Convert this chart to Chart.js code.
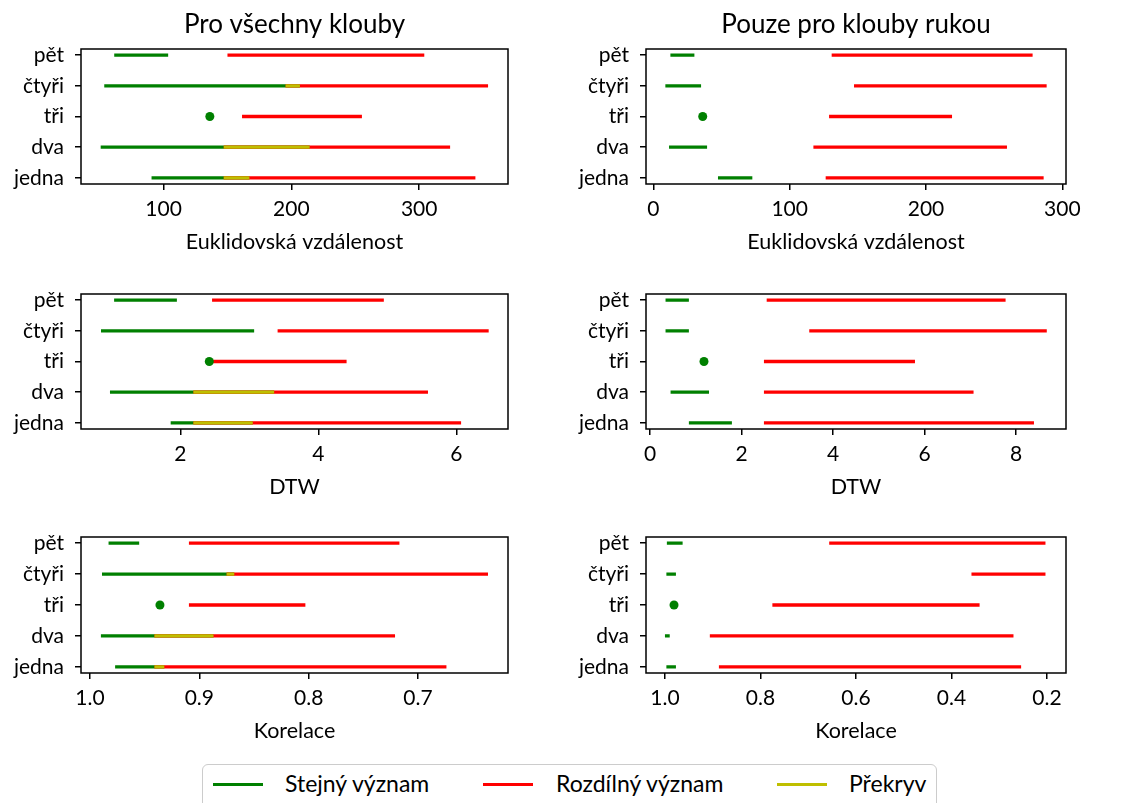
<!DOCTYPE html>
<html>
<head>
<meta charset="utf-8">
<script src="https://cdn.jsdelivr.net/npm/chart.js@4.4.1/dist/chart.umd.min.js"></script>
<style>
  html, body { margin: 0; padding: 0; background: #fff; }
  #page { position: relative; width: 1130px; height: 803px; overflow: hidden; font-family: Lato, sans-serif; color: #000; }
  #page canvas { position: absolute; }
  .legend { position: absolute; left: 202px; top: 764px; width: 735px; height: 60px; border: 1.5px solid #cccccc; border-radius: 6px; box-sizing: border-box; background: #fff; }
  .legend .line { position: absolute; top: 17.5px; width: 50px; height: 3.3px; }
  .legend .label { position: absolute; top: 5px; font-size: 23px; line-height: 26px; white-space: nowrap; }
</style>
</head>
<body>
<div id="page">
  <div class="legend">
    <div class="line" style="left:10px;background:#008000"></div>
    <div class="label" style="left:82px">Stejný význam</div>
    <div class="line" style="left:280px;background:#ff0000"></div>
    <div class="label" style="left:353px">Rozdílný význam</div>
    <div class="line" style="left:574px;background:#bfbf00"></div>
    <div class="label" style="left:646px">Překryv</div>
  </div>
</div>
<script>
// row labels, bottom to top
const categories = ['jedna', 'dva', 'tři', 'čtyři', 'pět'];

// [from, to] per category; "same" = stejný význam, "diff" = rozdílný význam
const euclidAllSame = [[90.6, 167.2], [50.8, 214.3], [136.2, 136.2], [53.6, 206.7], [61.4, 103.6]];
const euclidAllDiff = [[147.1, 344.0], [147.1, 324.2], [161.4, 255.2], [195.5, 353.9], [150.0, 304.0]];
const euclidHandSame = [[47.4, 72.6], [11.5, 39.4], [36.2, 36.2], [8.8, 35.0], [12.5, 30.1]];
const euclidHandDiff = [[126.4, 286.3], [117.4, 259.4], [128.9, 219.1], [147.2, 288.5], [130.8, 278.2]];

const dtwAllSame = [[1.86, 3.05], [0.98, 3.36], [2.42, 2.42], [0.85, 3.07], [1.04, 1.95]];
const dtwAllDiff = [[2.19, 6.07], [2.19, 5.59], [2.42, 4.41], [3.41, 6.47], [2.46, 4.95]];
const dtwHandSame = [[0.85, 1.79], [0.45, 1.29], [1.18, 1.18], [0.34, 0.85], [0.34, 0.85]];
const dtwHandDiff = [[2.49, 8.39], [2.49, 7.07], [2.49, 5.79], [3.48, 8.67], [2.55, 7.77]];

const corrAllSame = [[0.977, 0.932], [0.990, 0.887], [0.936, 0.936], [0.989, 0.868], [0.983, 0.955]];
const corrAllDiff = [[0.941, 0.674], [0.941, 0.721], [0.9095, 0.803], [0.875, 0.636], [0.9095, 0.717]];
const corrHandSame = [[0.997, 0.977], [1.0, 0.990], [0.981, 0.981], [0.997, 0.977], [0.996, 0.963]];
const corrHandDiff = [[0.887, 0.254], [0.906, 0.270], [0.775, 0.341], [0.358, 0.203], [0.656, 0.203]];

// x tick values
const euclidAllTicks = [100, 200, 300];
const euclidHandTicks = [0, 100, 200, 300];
const dtwAllTicks = [2, 4, 6];
const dtwHandTicks = [0, 2, 4, 6, 8];
const corrAllTicks = [1.0, 0.9, 0.8, 0.7];
const corrHandTicks = [1.0, 0.8, 0.6, 0.4, 0.2];

const GREEN = '#008000', RED = '#ff0000', YELLOW = '#bfbf00';
const FONT = 'Lato';
const YW = 80, RP = 80, XH = 75, TOP_PAD = 26;

const panels = [
  { title: 'Pro všechny klouby', xLabel: 'Euklidovská vzdálenost', same: euclidAllSame, diff: euclidAllDiff,
    ticks: euclidAllTicks, min: 35.4, max: 369.5, digits: 0, box: [81, 49, 427, 135] },
  { title: 'Pouze pro klouby rukou', xLabel: 'Euklidovská vzdálenost', same: euclidHandSame, diff: euclidHandDiff,
    ticks: euclidHandTicks, min: -5.4, max: 302.7, digits: 0, box: [646, 49, 420, 135] },
  { xLabel: 'DTW', same: dtwAllSame, diff: dtwAllDiff,
    ticks: dtwAllTicks, min: 0.56, max: 6.75, digits: 0, box: [81, 294, 427, 135] },
  { xLabel: 'DTW', same: dtwHandSame, diff: dtwHandDiff,
    ticks: dtwHandTicks, min: -0.087, max: 9.09, digits: 0, box: [646, 294, 420, 135] },
  { xLabel: 'Korelace', same: corrAllSame, diff: corrAllDiff, reverse: true,
    ticks: corrAllTicks, min: 0.6177, max: 1.0082, digits: 1, box: [81, 537, 427, 136] },
  { xLabel: 'Korelace', same: corrHandSame, diff: corrHandDiff, reverse: true,
    ticks: corrHandTicks, min: 0.160, max: 1.0397, digits: 1, box: [646, 537, 420, 136] }
];

// line pieces for each row, broken by empty points
function segments(ranges) {
  const pts = [];
  ranges.forEach((r, i) => {
    if (r[0] === r[1]) return;
    pts.push({ x: r[0], y: i }, { x: r[1], y: i }, { x: null, y: null });
  });
  return pts;
}

// part of the row where both ranges meet
function overlaps(same, diff) {
  return same.map((g, i) => {
    const r = diff[i];
    const lo = Math.max(Math.min(...g), Math.min(...r));
    const hi = Math.min(Math.max(...g), Math.max(...r));
    return hi > lo ? [lo, hi] : [lo, lo];
  });
}

// rows where the range collapses to a single value
function dots(ranges) {
  return ranges.map((r, i) => r[0] === r[1] ? { x: r[0], y: i } : null).filter(pt => pt);
}

// closed axes box plus the panel heading over the plot area
function framePlugin(title) {
  return {
    id: 'frame',
    afterDraw(chart) {
      const { ctx, chartArea: a } = chart;
      ctx.save();
      ctx.strokeStyle = '#000';
      ctx.lineWidth = 1.5;
      ctx.strokeRect(a.left, a.top, a.right - a.left, a.bottom - a.top);
      if (title) {
        ctx.fillStyle = '#000';
        ctx.font = '26px ' + FONT;
        ctx.textAlign = 'center';
        ctx.textBaseline = 'alphabetic';
        ctx.fillText(title, (a.left + a.right) / 2, a.top - 15.7);
      }
      ctx.restore();
    }
  };
}

const page = document.getElementById('page');

panels.forEach(p => {
  const [left, top, w, h] = p.box;
  const padTop = p.title ? top : TOP_PAD;
  const canvas = document.createElement('canvas');
  const cw = YW + w + RP, ch = padTop + h + XH;
  canvas.width = cw;
  canvas.height = ch;
  canvas.style.left = (left - YW) + 'px';
  canvas.style.top = (top - padTop) + 'px';
  canvas.style.width = cw + 'px';
  canvas.style.height = ch + 'px';
  page.appendChild(canvas);

  const lineSet = (data, color, order) => ({
    data, borderColor: color, backgroundColor: color, borderWidth: 3.3,
    borderCapStyle: 'butt', pointRadius: 0, spanGaps: false, order
  });

  const gridOpts = { drawOnChartArea: false, drawTicks: true, tickLength: 6, color: '#000', lineWidth: 1.5 };

  new Chart(canvas, {
    type: 'line',
    data: {
      datasets: [
        lineSet(segments(p.same), GREEN, 4),
        lineSet(segments(p.diff), RED, 3),
        lineSet(segments(overlaps(p.same, p.diff)), YELLOW, 2),
        { data: dots(p.same), showLine: false, pointRadius: 4.5, pointBorderWidth: 0,
          pointBackgroundColor: GREEN, borderColor: GREEN, order: 1 }
      ]
    },
    options: {
      responsive: false,
      animation: false,
      events: [],
      layout: { padding: { left: 0, right: RP, top: padTop, bottom: 0 } },
      plugins: {
        legend: { display: false },
        tooltip: { enabled: false },
        title: { display: false }
      },
      scales: {
        x: {
          type: 'linear', min: p.min, max: p.max, reverse: !!p.reverse,
          afterBuildTicks: s => { s.ticks = p.ticks.map(v => ({ value: v })); },
          afterFit: s => { s.height = XH; },
          grid: gridOpts,
          border: { display: false },
          ticks: {
            color: '#000', font: { family: FONT, size: 21 }, padding: 6.5,
            maxRotation: 0, autoSkip: false,
            callback: v => v.toFixed(p.digits)
          },
          title: {
            display: true, text: p.xLabel, color: '#000',
            font: { family: FONT, size: 21.5 }, padding: { top: 0, bottom: 4.4 }
          }
        },
        y: {
          type: 'linear', min: -0.2, max: 4.2,
          afterBuildTicks: s => { s.ticks = categories.map((c, i) => ({ value: i })); },
          afterFit: s => { s.width = YW; },
          grid: gridOpts,
          border: { display: false },
          ticks: {
            color: '#000', font: { family: FONT, size: 21 }, padding: 11,
            autoSkip: false, callback: v => categories[v]
          }
        }
      }
    },
    plugins: [framePlugin(p.title)]
  });
});
</script>
</body>
</html>
